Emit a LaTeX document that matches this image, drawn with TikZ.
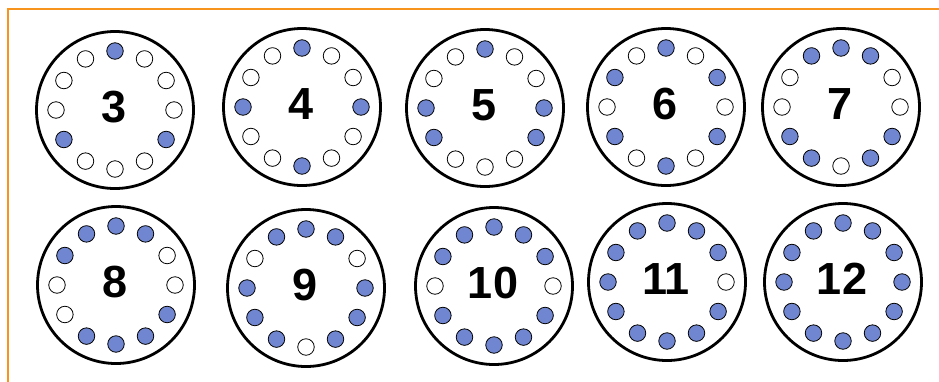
\documentclass[tikz,border=0pt]{standalone}
\usepackage{fontspec}
\setmainfont{Liberation Sans}
\definecolor{dotblue}{RGB}{112,134,208}
\definecolor{frameorange}{RGB}{247,148,30}
\begin{document}
\begin{tikzpicture}[x=1pt,y=-1pt,
  face/.style={circle,draw,line width=2.8pt,minimum size=157pt,inner sep=0pt},
  numtxt/.style={inner sep=0pt,font=\bfseries\fontsize{45}{45}\selectfont},
  seat/.style={circle,draw,line width=0.8pt,minimum size=16.5pt,inner sep=0pt}]
\useasboundingbox (0,0) rectangle (939,381);
\coordinate (fb) at (8,390);
\coordinate (fc) at (8,9);
\coordinate (fr) at (950,9);
\draw[frameorange,line width=2.6pt] (fb) -- (fc) -- (fr);
\foreach \n/\x/\y/\pat in {
  3/115/110/{1,0,0,0,1,0,0,0,1,0,0,0},
  4/302/107/{1,0,0,1,0,0,1,0,0,1,0,0},
  5/485/108/{1,0,0,1,1,0,0,0,1,1,0,0},
  6/666/107/{1,0,1,0,1,0,1,0,1,0,1,0},
  7/841/107/{1,1,0,0,1,1,0,1,1,0,0,1},
  8/116/285/{1,1,0,0,1,1,1,1,0,0,1,1},
  9/306/288/{1,1,0,1,1,1,0,1,1,1,0,1},
  10/494/286/{1,1,1,0,1,1,1,1,1,0,1,1},
  11/667/282/{1,1,1,0,1,1,1,1,1,1,1,1},
  12/843/282/{1,1,1,1,1,1,1,1,1,1,1,1}}{
  \node[face] (c\n) at (\x,\y) {};
  \node[numtxt] (t\n) at ([yshift=3pt,xshift=-1pt]c\n.center) {\n};
  \foreach \s [count=\k from 0] in \pat {
    \ifnum\s=1 \def\fc{dotblue}\else\def\fc{white}\fi
    \node[seat,fill=\fc] (d\n-\k) at ([shift={(-90+30*\k:59)}]c\n.center) {};
  }
}
\end{tikzpicture}
\end{document}
